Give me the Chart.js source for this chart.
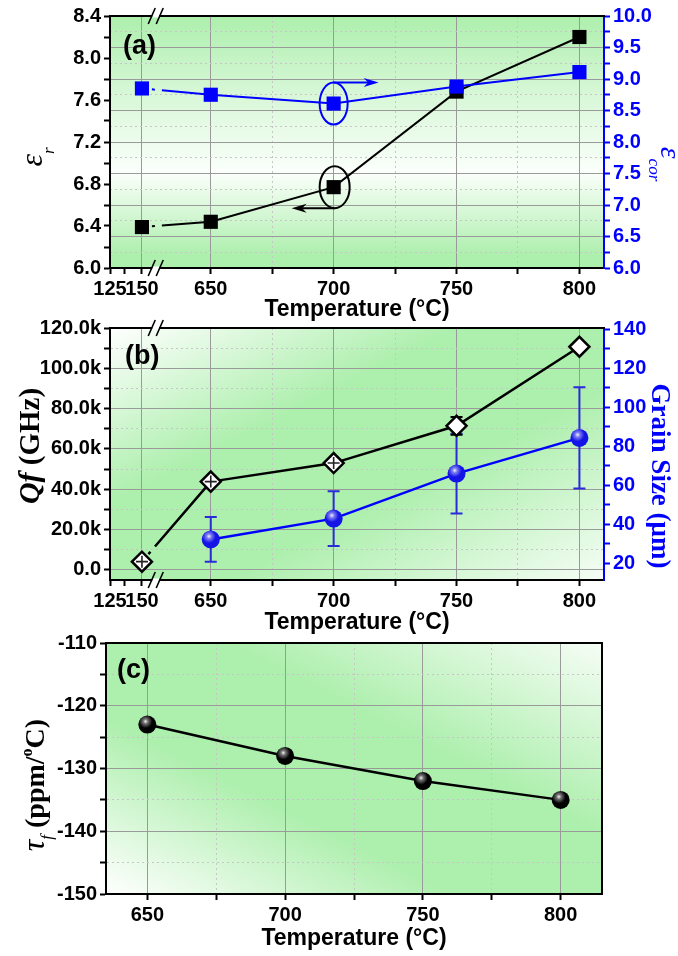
<!DOCTYPE html>
<html lang="en">
<head>
  <meta charset="UTF-8" />
  <title>Dielectric properties vs sintering temperature</title>
  <script src="https://cdn.jsdelivr.net/npm/chart.js"></script>
  <style>
    body { margin: 0; background: #fff; }
    #wrap { position: relative; width: 678px; height: 956px; }
    canvas { position: absolute; left: 0; }
  </style>
</head>
<body>
  <div id="wrap">
    <canvas id="chartA" width="678" height="330" style="top:0px"></canvas>
    <canvas id="chartB" width="678" height="345" style="top:300px"></canvas>
    <canvas id="chartC" width="678" height="336" style="top:620px"></canvas>
  </div>

  <script>
    // positions on the broken temperature axis (first sample sits left of the break)
    const tempPos = [622, 650, 700, 750, 800];
    const tempTickVals = [609, 615, 622, 650, 675, 700, 725, 750, 775, 800];
    const tempTickText = ['125', '', '150', '650', '', '700', '', '750', '', '800'];
    const breakAt = 627;

    // (a) permittivity
    const epsR = [6.39, 6.44, 6.77, 7.68, 8.20];
    const epsCor = [8.85, 8.75, 8.61, 8.88, 9.11];
    const epsRTicks = [6.0, 6.4, 6.8, 7.2, 7.6, 8.0, 8.4];
    const epsCorTicks = [6.0, 6.5, 7.0, 7.5, 8.0, 8.5, 9.0, 9.5, 10.0];

    // (b) Qf and grain size
    const qf = [4100, 43800, 53000, 71500, 110700];
    const qfErr = [0, 0, 0, 4400, 0];
    const grainTemp = [650, 700, 750, 800];
    const grainSize = [32.2, 42.9, 66.0, 84.3];
    const grainErr = [11.5, 14.0, 20.5, 26.0];
    const qfTicks = [0, 20000, 40000, 60000, 80000, 100000, 120000];
    const grainTicks = [20, 40, 60, 80, 100, 120, 140];

    // (c) temperature coefficient
    const tauTemp = [650, 700, 750, 800];
    const tauF = [-123, -128, -132, -135];
    const tauTicks = [-150, -140, -130, -120, -110];
    const tauTempTicks = [650, 700, 750, 800];

    const GREEN = '#adefad';
    const PALE = '#d6f7d6';
    const BLUE = '#0000ff';
    const GRID_MAJOR = '#9a9a9a';
    const GRID_MINOR = '#c6c6c6';
    const SANS = "'Liberation Sans', Arial, sans-serif";
    const SERIF = "'Liberation Serif', 'Times New Roman', serif";
    const TICK_FONT = { family: SANS, size: 20, weight: 'bold' };
    const TITLE_FONT = { family: SANS, size: 23, weight: 'bold', lineHeight: 1.2 };

    const pts = (xs, ys) => xs.map((x, i) => ({ x: x, y: ys[i] }));

    function withMinors(majors) {
      const out = [];
      majors.forEach((v, i) => {
        out.push({ value: v, minor: false });
        if (i < majors.length - 1) out.push({ value: (v + majors[i + 1]) / 2, minor: true });
      });
      return out;
    }

    const isMinor = ctx => !!(ctx.tick && ctx.tick.minor);

    function yAxis(o) {
      return {
        type: 'linear',
        position: o.position,
        min: o.min,
        max: o.max,
        afterBuildTicks: s => { s.ticks = withMinors(o.majors); },
        afterFit: s => { s.width = o.width; },
        ticks: {
          color: o.color, font: TICK_FONT, padding: 3, autoSkip: false,
          callback: (v, i, ticks) => ticks[i].minor ? '' : o.fmt(v)
        },
        grid: {
          drawOnChartArea: o.grid,
          color: ctx => isMinor(ctx) ? GRID_MINOR : GRID_MAJOR,
          tickColor: o.color, tickLength: 6, tickWidth: 2
        },
        border: { color: o.color, width: 2, dash: ctx => isMinor(ctx) ? [2, 3] : [] }
      };
    }

    function xAxis(o) {
      return {
        type: 'linear',
        position: 'bottom',
        min: o.min,
        max: o.max,
        afterBuildTicks: s => {
          s.ticks = o.vals.map((v, i) => ({ value: v, minor: o.text[i] === '', hidden: v < o.gridFrom }));
        },
        afterFit: s => { s.height = o.height; },
        ticks: {
          color: '#000', font: TICK_FONT, padding: 3, autoSkip: false, maxRotation: 0,
          callback: (v, i) => o.text[i]
        },
        grid: {
          color: ctx => !ctx.tick ? GRID_MAJOR : ctx.tick.hidden ? 'rgba(0,0,0,0)' : ctx.tick.minor ? GRID_MINOR : GRID_MAJOR,
          tickColor: '#000', tickLength: 6, tickWidth: 2
        },
        border: { color: '#000', width: 2, dash: ctx => isMinor(ctx) ? [2, 3] : [] },
        title: {
          display: true, text: 'Temperature (°C)', color: '#000', font: TITLE_FONT,
          padding: { top: 0, bottom: o.titlePad }
        }
      };
    }

    // the short dotted gap right after the axis break
    const breakSegment = {
      borderDash: ctx => ctx.p0DataIndex === 0 ? [0, 10, 3, 7, 2000, 10] : undefined
    };

    function drawRich(ctx, x, y, rot, base, parts) {
      ctx.save();
      ctx.translate(x, y);
      ctx.rotate(rot);
      ctx.textBaseline = 'alphabetic';
      ctx.textAlign = 'left';
      let total = 0;
      parts.forEach(p => { ctx.font = p.font; p.w = ctx.measureText(p.text).width; total += p.w; });
      let cx = -total / 2;
      parts.forEach(p => {
        ctx.font = p.font;
        ctx.fillStyle = p.color || '#000';
        ctx.fillText(p.text, cx, base + (p.dy || 0));
        cx += p.w;
      });
      ctx.restore();
    }

    function arrow(ctx, x1, y1, x2, y2, color) {
      const ang = Math.atan2(y2 - y1, x2 - x1), len = 15, hw = 4.5;
      const c = Math.cos(ang), s = Math.sin(ang);
      ctx.strokeStyle = color;
      ctx.fillStyle = color;
      ctx.lineWidth = 2;
      ctx.beginPath();
      ctx.moveTo(x1, y1);
      ctx.lineTo(x2 - c * len * 0.6, y2 - s * len * 0.6);
      ctx.stroke();
      ctx.beginPath();
      ctx.moveTo(x2, y2);
      ctx.lineTo(x2 - c * len - s * hw, y2 - s * len + c * hw);
      ctx.lineTo(x2 - c * len * 0.7, y2 - s * len * 0.7);
      ctx.lineTo(x2 - c * len + s * hw, y2 - s * len - c * hw);
      ctx.closePath();
      ctx.fill();
    }

    const decor = {
      id: 'decor',
      beforeDraw(chart, args, o) {
        const { ctx, chartArea: a } = chart;
        let g;
        if (o.bg === 'vertical') {
          g = ctx.createLinearGradient(0, a.top, 0, a.bottom);
          g.addColorStop(0, GREEN);
          g.addColorStop(0.3, PALE);
          g.addColorStop(0.62, '#fbfffb');
          g.addColorStop(0.95, GREEN);
        } else {
          const w = a.width, h = a.height, n = Math.hypot(w, h), L = w * h / n;
          const cx = a.left + w / 2, cy = a.top + h / 2;
          const dx = h / n * L, dy = (o.bg === 'diagDown' ? w : -w) / n * L;
          g = ctx.createLinearGradient(cx - dx, cy - dy, cx + dx, cy + dy);
          g.addColorStop(0, '#ffffff');
          g.addColorStop(0.35, GREEN);
          g.addColorStop(0.62, GREEN);
          g.addColorStop(1, '#f6fdf6');
        }
        ctx.save();
        ctx.fillStyle = g;
        ctx.fillRect(a.left, a.top, a.width, a.height);
        ctx.restore();
      },
      beforeDatasetsDraw(chart, args, o) {
        const { ctx } = chart;
        (o.errorBars || []).forEach(eb => {
          const meta = chart.getDatasetMeta(eb.dataset);
          const ys = chart.scales[meta.yAxisID];
          const data = chart.data.datasets[eb.dataset].data;
          ctx.save();
          ctx.strokeStyle = eb.color;
          ctx.lineWidth = 2;
          meta.data.forEach((pt, i) => {
            const e = eb.errors[i];
            if (!e) return;
            const top = ys.getPixelForValue(data[i].y + e), bot = ys.getPixelForValue(data[i].y - e);
            ctx.beginPath();
            ctx.moveTo(pt.x, top); ctx.lineTo(pt.x, bot);
            ctx.moveTo(pt.x - 6, top); ctx.lineTo(pt.x + 6, top);
            ctx.moveTo(pt.x - 6, bot); ctx.lineTo(pt.x + 6, bot);
            ctx.stroke();
          });
          ctx.restore();
        });
      },
      afterDatasetsDraw(chart, args, o) {
        const { ctx } = chart;
        (o.spheres || []).forEach(di => {
          chart.getDatasetMeta(di).data.forEach(pt => {
            const r = pt.options.radius;
            const hx = pt.x - r * 0.2, hy = pt.y - r * 0.35;
            const g = ctx.createRadialGradient(hx, hy, 0, hx, hy, r * 0.75);
            g.addColorStop(0, 'rgba(255,255,255,0.95)');
            g.addColorStop(0.35, 'rgba(255,255,255,0.45)');
            g.addColorStop(1, 'rgba(255,255,255,0)');
            ctx.save();
            ctx.beginPath();
            ctx.arc(pt.x, pt.y, r, 0, Math.PI * 2);
            ctx.clip();
            ctx.fillStyle = g;
            ctx.fillRect(pt.x - r, pt.y - r, 2 * r, 2 * r);
            ctx.restore();
          });
        });
        if (o.cross) {
          ctx.save();
          ctx.strokeStyle = '#222';
          ctx.lineWidth = 1.6;
          chart.getDatasetMeta(o.cross.dataset).data.forEach((pt, i) => {
            if (i >= o.cross.upTo) return;
            ctx.beginPath();
            ctx.moveTo(pt.x - 6, pt.y); ctx.lineTo(pt.x + 6, pt.y);
            ctx.moveTo(pt.x, pt.y - 6); ctx.lineTo(pt.x, pt.y + 6);
            ctx.stroke();
          });
          ctx.restore();
        }
      },
      afterDraw(chart, args, o) {
        const { ctx, chartArea: a } = chart;
        ctx.save();
        // frame
        ctx.strokeStyle = '#000';
        ctx.lineWidth = 2;
        ctx.beginPath();
        ctx.moveTo(a.left - 1, a.top); ctx.lineTo(a.right + 1, a.top);
        if (o.frameRight) { ctx.moveTo(a.right, a.top); ctx.lineTo(a.right, a.bottom + 1); }
        ctx.stroke();

        // axis break marks
        if (o.breakAt !== undefined) {
          const bx = chart.scales.x.getPixelForValue(o.breakAt);
          [a.top, a.bottom].forEach(by => {
            ctx.fillStyle = '#fff';
            ctx.fillRect(bx - 2, by - 1.5, 7, 3);
            ctx.strokeStyle = '#000';
            ctx.lineWidth = 1.6;
            ctx.beginPath();
            ctx.moveTo(bx - 6, by + 8); ctx.lineTo(bx + 1, by - 8);
            ctx.moveTo(bx + 2, by + 8); ctx.lineTo(bx + 9, by - 8);
            ctx.stroke();
          });
        }

        // panel label
        ctx.fillStyle = '#000';
        ctx.font = 'bold 27px ' + SANS;
        ctx.textAlign = 'left';
        ctx.textBaseline = 'middle';
        ctx.fillText(o.label, a.left + o.labelAt[0], a.top + o.labelAt[1]);

        // ellipse + arrow callouts of panel (a)
        if (o.callouts) {
          const xs = chart.scales.x;
          const bx = xs.getPixelForValue(tempPos[2]);
          const yBlue = chart.scales.y2.getPixelForValue(epsCor[2]);
          const yBlack = chart.scales.y.getPixelForValue(epsR[2]);
          ctx.lineWidth = 2;
          ctx.strokeStyle = BLUE;
          ctx.beginPath();
          ctx.ellipse(bx, yBlue, 14, 21, 0, 0, Math.PI * 2);
          ctx.stroke();
          arrow(ctx, bx, yBlue - 21, bx + 45, yBlue - 21, BLUE);
          ctx.strokeStyle = '#000';
          ctx.beginPath();
          ctx.ellipse(bx + 1, yBlack, 15, 21, 0, 0, Math.PI * 2);
          ctx.stroke();
          arrow(ctx, bx + 1, yBlack + 21, bx - 42, yBlack + 21, '#000');
        }
        ctx.restore();

        (o.titles || []).forEach(t => drawRich(ctx, t.x, t.y, t.rot, t.base, t.parts));
      }
    };

    const common = {
      responsive: false,
      animation: false,
      events: []
    };

    // ---------- (a) ----------
    new Chart(document.getElementById('chartA'), {
      type: 'line',
      data: {
        datasets: [
          {
            label: 'εr', data: pts(tempPos, epsR), yAxisID: 'y', order: 2,
            borderColor: '#000', backgroundColor: '#000', borderWidth: 2, borderCapStyle: 'butt',
            pointStyle: 'rect', pointRadius: 10, pointBorderWidth: 0, segment: breakSegment
          },
          {
            label: 'εcor', data: pts(tempPos, epsCor), yAxisID: 'y2', order: 1,
            borderColor: BLUE, backgroundColor: BLUE, borderWidth: 2, borderCapStyle: 'butt',
            pointStyle: 'rect', pointRadius: 10, pointBorderWidth: 0, segment: breakSegment
          }
        ]
      },
      options: {
        ...common,
        layout: { padding: { top: 16, left: 0, right: 0, bottom: 0 } },
        plugins: {
          legend: { display: false },
          tooltip: { enabled: false },
          decor: {
            bg: 'vertical', label: '(a)', labelAt: [13, 31], breakAt: breakAt, callouts: true,
            titles: [
              { x: 35, y: 157, rot: -Math.PI / 2, base: 7, parts: [
                { text: 'ε', font: 'italic 32px ' + SERIF },
                { text: 'r', font: 'italic 17px ' + SERIF, dy: 12 }
              ] },
              { x: 668, y: 164, rot: Math.PI / 2, base: 7, parts: [
                { text: 'ε', font: 'italic 30px ' + SERIF, color: BLUE },
                { text: 'cor', font: 'italic 17px ' + SERIF, color: BLUE, dy: 12 }
              ] }
            ]
          }
        },
        scales: {
          x: xAxis({ min: 609, max: 810, vals: tempTickVals, text: tempTickText, gridFrom: tempPos[0], height: 62, titlePad: 7 }),
          y: yAxis({ position: 'left', min: 6, max: 8.4, majors: epsRTicks, fmt: v => v.toFixed(1), color: '#000', width: 110, grid: false }),
          y2: yAxis({ position: 'right', min: 6, max: 10, majors: epsCorTicks, fmt: v => v.toFixed(1), color: BLUE, width: 74, grid: true })
        }
      },
      plugins: [decor]
    });

    // ---------- (b) ----------
    new Chart(document.getElementById('chartB'), {
      type: 'line',
      data: {
        datasets: [
          {
            label: 'Qf', data: pts(tempPos, qf), yAxisID: 'y', order: 1,
            borderColor: '#000', backgroundColor: '#fff', borderWidth: 2.5, borderCapStyle: 'butt',
            pointStyle: 'rectRot', pointRadius: 10, pointBackgroundColor: '#fff',
            pointBorderColor: '#000', pointBorderWidth: 2.5, segment: breakSegment
          },
          {
            label: 'Grain Size', data: pts(grainTemp, grainSize), yAxisID: 'y2', order: 2,
            borderColor: BLUE, backgroundColor: '#1414e6', borderWidth: 2.5,
            pointStyle: 'circle', pointRadius: 9, pointBorderWidth: 0
          }
        ]
      },
      options: {
        ...common,
        layout: { padding: { top: 28, left: 0, right: 0, bottom: 0 } },
        plugins: {
          legend: { display: false },
          tooltip: { enabled: false },
          decor: {
            bg: 'diagDown', label: '(b)', labelAt: [15, 29], breakAt: breakAt,
            errorBars: [
              { dataset: 1, errors: grainErr, color: '#2a2ad8' },
              { dataset: 0, errors: qfErr, color: '#000' }
            ],
            spheres: [1],
            cross: { dataset: 0, upTo: 3 },
            titles: [
              { x: 29, y: 146, rot: -Math.PI / 2, base: 10, parts: [
                { text: 'Qf', font: 'italic bold 30px ' + SERIF },
                { text: ' (GHz)', font: 'bold 29px ' + SERIF }
              ] },
              { x: 661, y: 176, rot: Math.PI / 2, base: 9, parts: [
                { text: 'Grain Size (μm)', font: 'bold 27px ' + SERIF, color: BLUE }
              ] }
            ]
          }
        },
        scales: {
          x: xAxis({ min: 609, max: 810, vals: tempTickVals, text: tempTickText, gridFrom: tempPos[0], height: 65, titlePad: 9 }),
          y: yAxis({ position: 'left', min: -5000, max: 120000, majors: qfTicks,
                     fmt: v => v === 0 ? '0.0' : (v / 1000).toFixed(1) + 'k', color: '#000', width: 110, grid: true }),
          y2: yAxis({ position: 'right', min: 11.4, max: 140.7, majors: grainTicks, fmt: v => String(v), color: BLUE, width: 74, grid: false })
        }
      },
      plugins: [decor]
    });

    // ---------- (c) ----------
    new Chart(document.getElementById('chartC'), {
      type: 'line',
      data: {
        datasets: [
          {
            label: 'τf', data: pts(tauTemp, tauF), yAxisID: 'y',
            borderColor: '#000', backgroundColor: '#000', borderWidth: 2.5,
            pointStyle: 'circle', pointRadius: 9, pointBorderWidth: 0
          }
        ]
      },
      options: {
        ...common,
        layout: { padding: { top: 23, left: 0, right: 76, bottom: 0 } },
        plugins: {
          legend: { display: false },
          tooltip: { enabled: false },
          decor: {
            bg: 'diagUp', label: '(c)', labelAt: [11, 28], frameRight: true,
            spheres: [0],
            titles: [
              { x: 35, y: 165, rot: -Math.PI / 2, base: 9, parts: [
                { text: 'τ', font: 'italic 32px ' + SERIF },
                { text: 'f', font: 'italic 17px ' + SERIF, dy: 8 },
                { text: ' (ppm/', font: 'bold 28px ' + SERIF },
                { text: 'o', font: 'bold 16px ' + SERIF, dy: -12 },
                { text: 'C)', font: 'bold 28px ' + SERIF }
              ] }
            ]
          }
        },
        scales: {
          x: xAxis({ min: 635, max: 815, vals: withMinors(tauTempTicks).map(t => t.value),
                     text: withMinors(tauTempTicks).map(t => t.minor ? '' : String(t.value)),
                     gridFrom: tauTempTicks[0], height: 62, titlePad: 4 }),
          y: yAxis({ position: 'left', min: -150, max: -110, majors: tauTicks, fmt: v => v.toFixed(0), color: '#000', width: 106, grid: true })
        }
      },
      plugins: [decor]
    });
  </script>
</body>
</html>
